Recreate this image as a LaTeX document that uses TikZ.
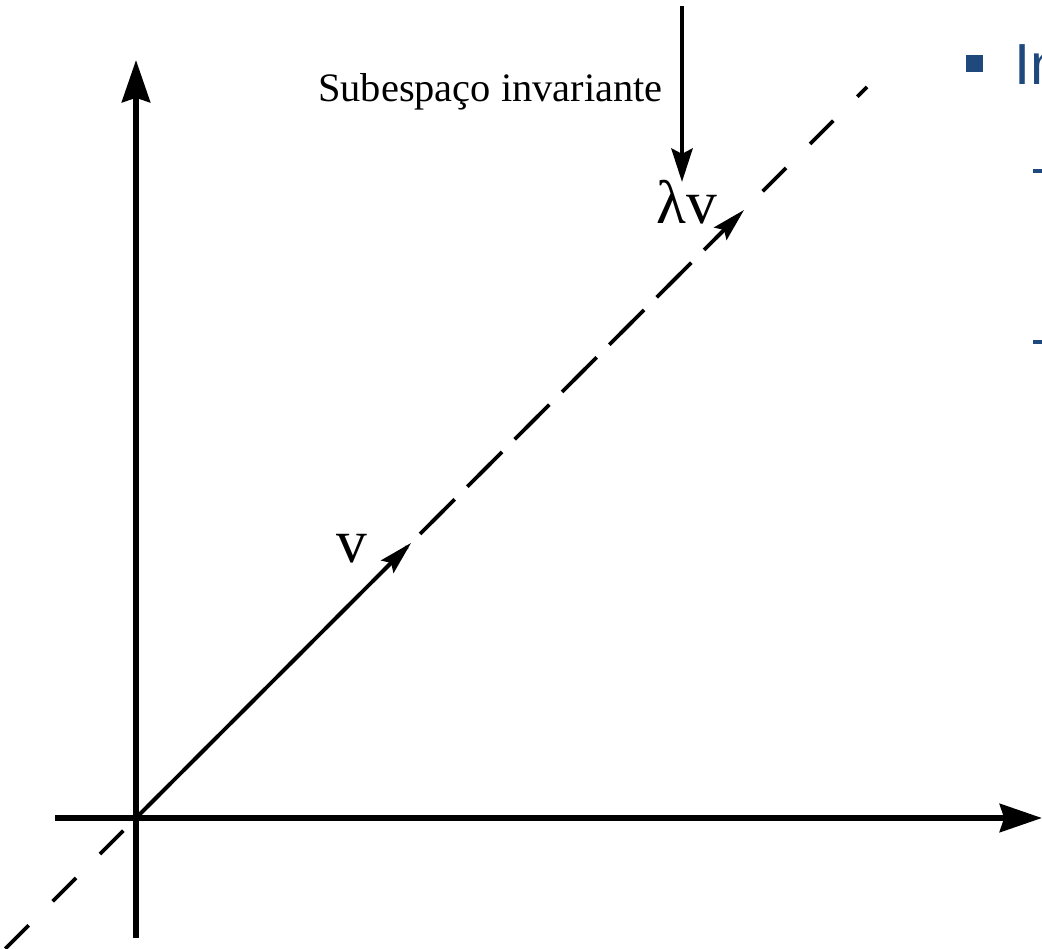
\documentclass[tikz,border=0pt]{standalone}
\usepackage{fontspec}
\setmainfont{Liberation Serif}
\newfontfamily\slidefont{Liberation Sans}
\usetikzlibrary{positioning, arrows.meta, calc}
\definecolor{slideblue}{HTML}{1F497D}

\begin{document}
\begin{tikzpicture}[x=0.02cm, y=0.02cm,
    axis/.style={line width=3.4pt, -{Stealth[length=24pt, width=16pt, inset=2.5pt]}},
    vec/.style={line width=2.2pt, -{Stealth[length=19pt, width=10pt, inset=3pt]}},
    subline/.style={line width=2.2pt, dash pattern=on 18.8pt off 19.3pt},
    pointer/.style={line width=2.8pt, -{Stealth[length=19pt, width=12pt, inset=3pt]}},
    veclabel/.style={anchor=base, inner sep=0pt, font=\fontsize{35pt}{42pt}\selectfont}]
  \useasboundingbox (-136,-130) rectangle (906,818);
  \clip (-136,-130) rectangle (906,818);
  % axes
  \coordinate (O) at (0,0);
  \coordinate (xl) at (-81,0);
  \coordinate (xr) at (906,0);
  \coordinate (yb) at (0,-120);
  \coordinate (yt) at (0,758);
  \draw[axis] (xl) -- (xr);
  \draw[axis] (yb) -- (yt);
  % invariant subspace and vectors
  \coordinate (dl) at (-178,-178);
  \coordinate (du) at (731,731);
  \coordinate (vtip) at (275,275);
  \coordinate (lvtip) at (608,608);
  \draw[subline] (dl) -- (du);
  \draw[subline, vec] (O) -- (lvtip);
  \draw[vec] (O) -- (vtip);
  \node[veclabel] (vlabel) at (216,256) {v};
  \node[veclabel] (lvlabel) at (551,594) {λv};
  % pointer to the subspace
  \node[anchor=base, inner sep=0pt, font=\fontsize{23pt}{28pt}\selectfont] (sublabel) at (354.5,716) {Subespaço invariante};
  \coordinate (ptop) at (546,812);
  \coordinate (ptip) at (546,636);
  \draw[pointer] (ptop) -- (ptip);
  % slide text cut at the edge
  \fill[slideblue] (830,746) rectangle (847,763);
  \node[anchor=base west, inner sep=0pt, text=slideblue, font=\slidefont\fontsize{33pt}{40pt}\selectfont] (slidetitle) at (878.5,733) {In};
  \fill[slideblue] (897,645) rectangle (912,649);
  \fill[slideblue] (897,474) rectangle (912,478);
\end{tikzpicture}
\end{document}
